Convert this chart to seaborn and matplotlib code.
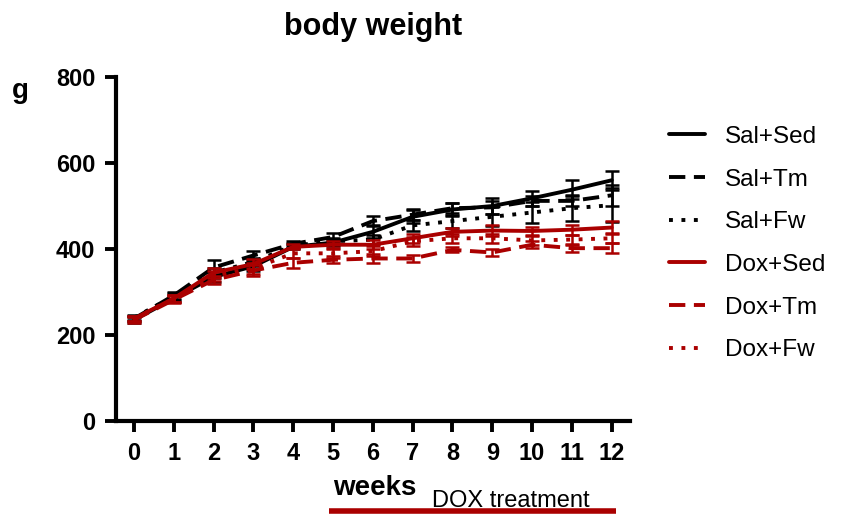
import matplotlib
matplotlib.use("Agg")
import matplotlib.pyplot as plt
import matplotlib.transforms as mtransforms
import pandas as pd
import seaborn as sns

# 데이터
weeks = list(range(13))
groups = ["Sal+Sed", "Sal+Tm", "Sal+Fw", "Dox+Sed", "Dox+Tm", "Dox+Fw"]
sal_sed = [235, 285, 335, 360, 405, 415, 440, 475, 492, 500, 518, 538, 560]
sal_tm = [238, 292, 357, 385, 412, 428, 465, 480, 495, 497, 512, 512, 525]
sal_fw = [240, 290, 345, 370, 408, 418, 422, 455, 465, 475, 485, 495, 502]
dox_sed = [238, 285, 345, 365, 405, 410, 410, 425, 440, 443, 442, 445, 450]
dox_tm = [235, 282, 328, 350, 368, 375, 378, 378, 398, 392, 410, 402, 402]
dox_fw = [238, 285, 338, 355, 390, 390, 395, 418, 425, 425, 420, 422, 425]
sal_sed_err = [8, 8, 12, 10, 6, 8, 15, 15, 15, 18, 18, 22, 22]
sal_tm_err = [6, 8, 18, 10, 6, 10, 12, 12, 12, 15, 12, 12, 25]
sal_fw_err = [6, 8, 12, 10, 6, 8, 10, 12, 15, 22, 25, 30, 40]
dox_sed_err = [6, 8, 12, 12, 6, 8, 10, 10, 10, 12, 10, 12, 15]
dox_tm_err = [6, 8, 10, 12, 12, 8, 10, 8, 6, 8, 8, 8, 12]
dox_fw_err = [6, 8, 12, 12, 12, 10, 12, 10, 10, 10, 10, 10, 12]
dox_start, dox_end = 5, 12

means = [sal_sed, sal_tm, sal_fw, dox_sed, dox_tm, dox_fw]
errs = [sal_sed_err, sal_tm_err, sal_fw_err, dox_sed_err, dox_tm_err, dox_fw_err]
red = "#AA0000"
colors = ["black", "black", "black", red, red, red]
dash = (0, (4.2, 2.2))
dot = (0, (1, 2.2))
styles = ["-", dash, dot, "-", dash, dot]

sns.set_style("ticks", {"text.color": "black", "axes.edgecolor": "black",
                        "xtick.color": "black", "ytick.color": "black",
                        "axes.labelcolor": "black"})
plt.rcParams["font.family"] = ["Liberation Sans", "DejaVu Sans"]

fig = plt.figure(figsize=(8.42, 5.14), dpi=100)
ax = fig.add_axes([0.1378, 0.181, 0.61, 0.669])

for name, m, e, c, ls in zip(groups, means, errs, colors, styles):
    df = pd.DataFrame({"week": weeks, "g": m})
    sns.lineplot(data=df, x="week", y="g", color=c, linewidth=2.8, ax=ax,
                 label=name, linestyle=ls)
    ax.errorbar(weeks, m, yerr=e, fmt="none", ecolor=c, elinewidth=1.8,
                capsize=5, capthick=1.8)

ax.set_xlim(-0.45, 12.45)
ax.set_ylim(0, 800)
ax.set_xticks(weeks)
ax.set_yticks([0, 200, 400, 600, 800])
ax.set_xlabel("")
ax.set_ylabel("")
sns.despine(ax=ax)
for s in ["left", "bottom"]:
    ax.spines[s].set_linewidth(3)
ax.tick_params(width=2.8, length=8, labelsize=17, pad=7)
for lab in ax.get_xticklabels() + ax.get_yticklabels():
    lab.set_fontweight("bold")

ax.set_title("body weight", fontsize=22, fontweight="bold", pad=30)
fig.text(0.014, 0.81, "g", fontsize=20, fontweight="bold", va="baseline")

leg = ax.legend(frameon=False, loc="center left", bbox_to_anchor=(1.034, 0.516),
                fontsize=17.5, handlelength=1.5, labelspacing=0.85, handletextpad=0.82)
for h in leg.get_lines():
    h.set_linewidth(2.8)

# DOX 치료 기간 표시
trans = mtransforms.blended_transform_factory(ax.transData, fig.transFigure)
ax.plot([dox_start - 0.1, dox_end + 0.1], [0.0068, 0.0068], transform=trans,
        color=red, linewidth=4, clip_on=False, solid_capstyle="butt")
fig.text(0.395, 0.037, "weeks", fontsize=20, fontweight="bold", va="baseline")
fig.text(0.513, 0.0135, "DOX treatment", fontsize=17, va="baseline")

fig.savefig("out.png", dpi=100)
